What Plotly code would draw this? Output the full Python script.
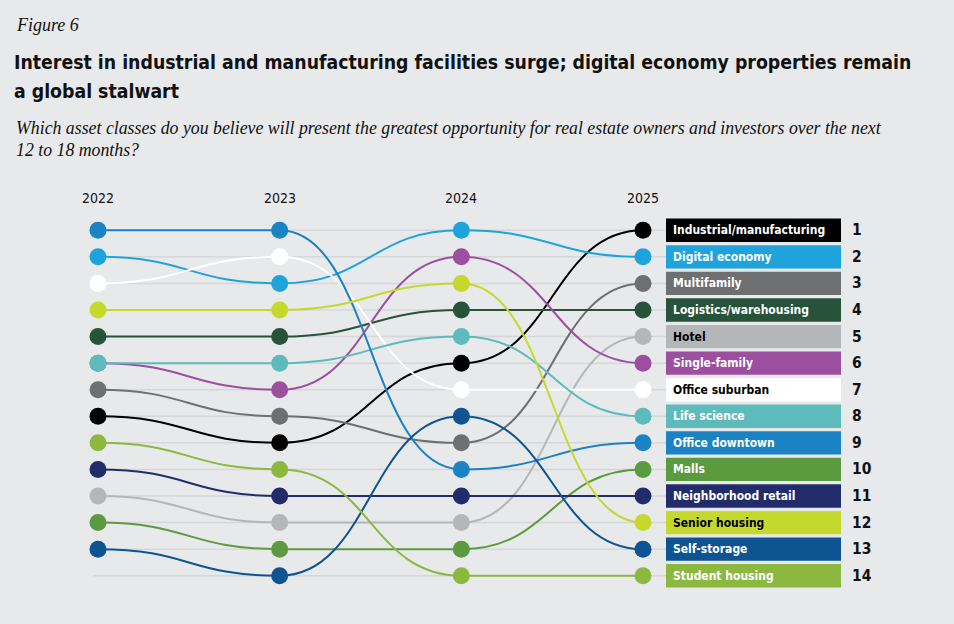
import plotly.graph_objects as go

# ---------------- data ----------------
categories = ["Industrial/manufacturing", "Digital economy", "Multifamily", "Logistics/warehousing",
              "Hotel", "Single-family", "Office suburban", "Life science", "Office downtown", "Malls",
              "Neighborhood retail", "Senior housing", "Self-storage", "Student housing"]
years = [2022, 2023, 2024, 2025]
rank_2022 = [8, 2, 7, 5, 11, 6, 3, 6, 1, 12, 10, 4, 13, 9]
rank_2023 = [9, 3, 8, 5, 12, 7, 2, 6, 1, 13, 11, 4, 14, 10]
rank_2024 = [6, 1, 9, 4, 12, 2, 7, 5, 10, 13, 11, 3, 8, 14]
rank_2025 = [1, 2, 3, 4, 5, 6, 7, 8, 9, 10, 11, 12, 13, 14]
colors = ["#000000", "#1fa3dd", "#6e6f71", "#26533a", "#b5b6b8", "#9b4f9e", "#ffffff",
          "#5dbbbb", "#1b82c4", "#5c9a3f", "#232c6a", "#c5d92d", "#0e5392", "#8cb83f"]
label_text_colors = ["#ffffff", "#ffffff", "#ffffff", "#ffffff", "#000000", "#ffffff", "#000000",
                     "#ffffff", "#ffffff", "#ffffff", "#ffffff", "#000000", "#ffffff", "#ffffff"]
year_labels = ["2022", "2023", "2024", "2025"]

fig_title_small = "Figure 6"
title_lines = ["Interest in industrial and manufacturing facilities surge; digital economy properties remain",
               "a global stalwart"]
subtitle_lines = ["Which asset classes do you believe will present the greatest opportunity for real estate owners and investors over the next",
                  "12 to 18 months?"]

# ---------------- layout geometry ----------------
W, H = 954, 624
BG = "#e8e9eb"
GRID = "#d6d7d9"
M_T, M_B = 217, 35
PLOT_H = H - M_T - M_B
PX_PER_YEAR = 181.67
X0 = 2022 - 98 / PX_PER_YEAR
X1 = X0 + W / PX_PER_YEAR

def px2x(px):
    return X0 + px / PX_PER_YEAR

def py2paper(py):
    return (H - M_B - py) / PLOT_H

COND = "DejaVu Sans Condensed, Liberation Sans Narrow, Arial Narrow, sans-serif"
SERIF = "Liberation Serif, DejaVu Serif, serif"

ranks = list(zip(rank_2022, rank_2023, rank_2024, rank_2025))
n = len(categories)

fig = go.Figure()
shapes = []
annotations = []

# gridlines
for r in range(1, n + 1):
    shapes.append(dict(type="line", xref="x", yref="y", x0=px2x(93), x1=px2x(666), y0=r, y1=r,
                       line=dict(color=GRID, width=1.5), layer="below"))

# S-curve connectors
for i in range(n):
    rk = ranks[i]
    for j in range(len(years) - 1):
        xa, xb = years[j], years[j + 1]
        ya, yb = rk[j], rk[j + 1]
        xm = (xa + xb) / 2
        path = f"M {xa},{ya} C {xm},{ya} {xm},{yb} {xb},{yb}"
        shapes.append(dict(type="path", xref="x", yref="y", path=path,
                           line=dict(color=colors[i], width=2), layer="between"))

# markers (Single-family drawn before Life science so its 2022 dot is hidden)
order = [8, 1, 6, 11, 3, 5, 7, 2, 0, 13, 10, 4, 9, 12]
for i in order:
    fig.add_trace(go.Scatter(x=years, y=list(ranks[i]), mode="markers", name=categories[i],
                             marker=dict(size=17, color=colors[i], line=dict(width=0)),
                             hoverinfo="name+y", showlegend=False))

# year labels
for yv, yl in zip(years, year_labels):
    annotations.append(dict(x=yv, xref="x", y=py2paper(198), yref="paper", text=yl, showarrow=False,
                            xanchor="center", yanchor="middle",
                            font=dict(family=COND, size=14, color="#111111")))

# label boxes + rank numbers
for i in range(n):
    r = rank_2025[i]
    shapes.append(dict(type="rect", xref="paper", yref="y", x0=666 / W, x1=841 / W,
                       y0=r - 0.44, y1=r + 0.44, fillcolor=colors[i], line=dict(width=0), layer="above"))
    annotations.append(dict(x=671 / W, xref="paper", y=r, yref="y", text=f"<b>{categories[i]}</b>",
                            showarrow=False, xanchor="left", yanchor="middle",
                            font=dict(family=COND, size=12, color=label_text_colors[i])))
    annotations.append(dict(x=850 / W, xref="paper", y=r, yref="y", text=f"<b>{r}</b>",
                            showarrow=False, xanchor="left", yanchor="middle",
                            font=dict(family=COND, size=15.5, color="#111111")))

# titles
annotations.append(dict(x=14 / W, xref="paper", y=py2paper(25), yref="paper", text=f"<i>{fig_title_small}</i>",
                        showarrow=False, xanchor="left", yanchor="middle",
                        font=dict(family=SERIF, size=18, color="#111111")))
for k, line in enumerate(title_lines):
    annotations.append(dict(x=12 / W, xref="paper", y=py2paper(63 + 28 * k), yref="paper", text=f"<b>{line}</b>",
                            showarrow=False, xanchor="left", yanchor="middle",
                            font=dict(family=COND, size=19.3, color="#111111")))
for k, line in enumerate(subtitle_lines):
    annotations.append(dict(x=14 / W, xref="paper", y=py2paper(128 + 22 * k), yref="paper", text=f"<i>{line}</i>",
                            showarrow=False, xanchor="left", yanchor="middle",
                            font=dict(family=SERIF, size=17.8, color="#111111")))

fig.update_layout(
    width=W, height=H,
    margin=dict(l=0, r=0, t=M_T, b=M_B),
    paper_bgcolor=BG, plot_bgcolor=BG,
    xaxis=dict(range=[X0, X1], visible=False, fixedrange=True),
    yaxis=dict(range=[n + 0.5, 0.5], visible=False, fixedrange=True),
    shapes=shapes, annotations=annotations,
    showlegend=False,
)

fig.write_html("out.html", config={"displayModeBar": False},
               post_script="document.body.style.margin='0px';document.body.style.background='%s';" % BG)
